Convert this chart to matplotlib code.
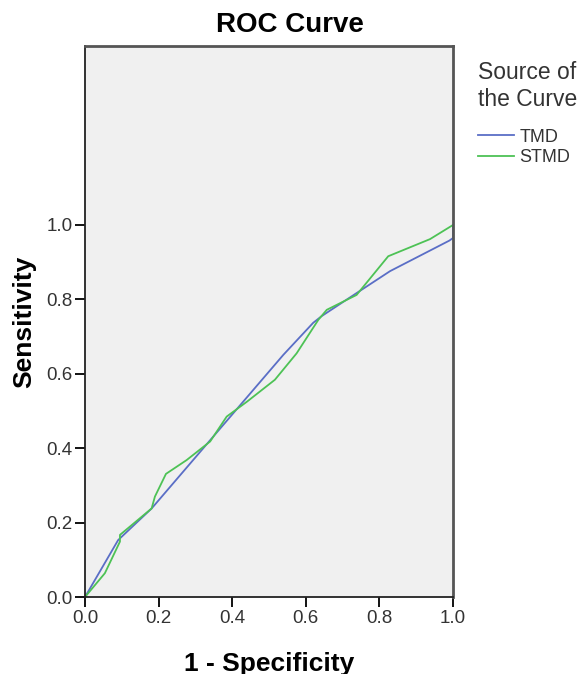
import matplotlib.pyplot as plt

plt.rcParams['font.family'] = ['Liberation Sans', 'DejaVu Sans']

# ROC points
tmd_x = [0.0, 0.09, 0.181, 0.539, 0.62, 0.643, 0.738, 0.829, 0.99, 1.0, 1.0]
tmd_y = [0.0, 0.153, 0.238, 0.651, 0.737, 0.755, 0.817, 0.876, 0.958, 0.965, 1.0]

stmd_x = [0.0, 0.054, 0.095, 0.095, 0.181, 0.19, 0.22, 0.276, 0.34, 0.385, 0.44,
          0.516, 0.575, 0.634, 0.657, 0.738, 0.824, 0.9375, 1.0]
stmd_y = [0.0, 0.064, 0.149, 0.167, 0.238, 0.270, 0.331, 0.368, 0.418, 0.485, 0.525,
          0.584, 0.655, 0.745, 0.772, 0.812, 0.916, 0.962, 1.0]

ticks = [0.0, 0.2, 0.4, 0.6, 0.8, 1.0]
tick_labels = ['0.0', '0.2', '0.4', '0.6', '0.8', '1.0']

fig = plt.figure(figsize=(5.79, 6.74), dpi=100)
ax = fig.add_axes([0.1468, 0.1142, 0.6356, 0.8175])
ax.set_facecolor('#f0f0f0')

ax.plot(tmd_x, tmd_y, color='#5a6ec6', lw=1.3, label='TMD')
ax.plot(stmd_x, stmd_y, color='#4dc255', lw=1.3, label='STMD')

ax.set_xlim(0, 1)
ax.set_ylim(0, 1.481)
ax.set_xticks(ticks)
ax.set_xticklabels(tick_labels)
ax.set_yticks(ticks)
ax.set_yticklabels(tick_labels)
ax.tick_params(direction='out', length=7, width=1.3, labelsize=13.5, colors='black',
               labelcolor='#333333', pad=2)
for s in ax.spines.values():
    s.set_linewidth(1.3)
    s.set_color('#222222')
ax.spines['right'].set_color('#555555')
ax.spines['right'].set_linewidth(2)
ax.spines['top'].set_color('#555555')
ax.spines['top'].set_linewidth(2)

fig.suptitle('ROC Curve', fontsize=20, fontweight='bold', x=0.5, y=0.982, va='top')
ax.set_xlabel('1 - Specificity', fontsize=19, fontweight='bold', labelpad=18)
ax.set_ylabel('Sensitivity', fontsize=19, fontweight='bold', labelpad=7)

leg = ax.legend(title='Source of\nthe Curve', loc='upper left',
                bbox_to_anchor=(478 / 579, 1 - 61 / 674), bbox_transform=fig.transFigure,
                frameon=False, fontsize=13, title_fontsize=16.5, handlelength=2.0,
                handletextpad=0.28, labelspacing=0.2, borderaxespad=0, borderpad=0)
leg._legend_box.align = 'left'
leg._legend_box.sep = 13
leg.get_title().set_color('#333333')
for t in leg.get_texts():
    t.set_color('#333333')

fig.savefig('out.png', dpi=100)
